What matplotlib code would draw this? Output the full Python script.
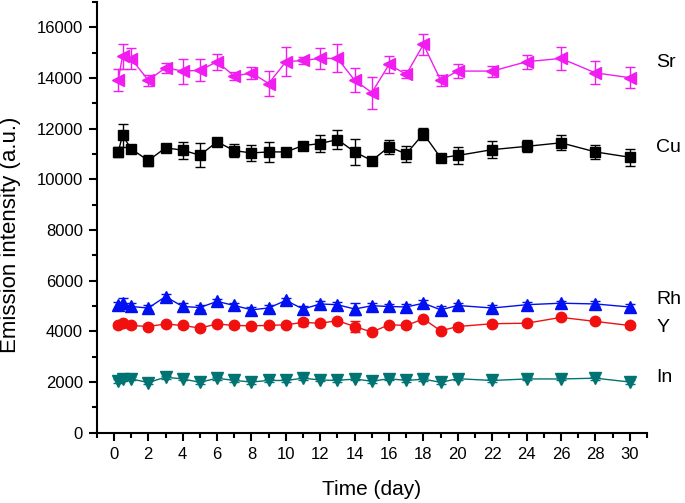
import numpy as np
import matplotlib
matplotlib.use('Agg')
import matplotlib.pyplot as plt
from matplotlib.ticker import MultipleLocator

plt.rcParams['font.family'] = ['Liberation Sans', 'DejaVu Sans']

# sampling times (day)
days = [0.25, 0.5, 1, 2, 3, 4, 5, 6, 7, 8, 9, 10, 11, 12, 13, 14, 15,
        16, 17, 18, 19, 20, 22, 24, 26, 28, 30]

sr = [13910, 14860, 14760, 13910, 14400, 14270, 14300, 14640, 14070, 14200,
      13780, 14640, 14690, 14770, 14770, 13910, 13420, 14530, 14140, 15320,
      13910, 14270, 14270, 14640, 14770, 14200, 14010]
sr_err = [430, 490, 410, 220, 200, 490, 430, 320, 150, 230, 510, 570, 130,
          410, 550, 470, 630, 320, 160, 400, 220, 290, 220, 280, 450, 450, 410]

cu = [11070, 11740, 11200, 10740, 11240, 11150, 10950, 11480, 11130, 11040,
      11080, 11080, 11330, 11410, 11570, 11080, 10740, 11280, 11000, 11800,
      10850, 10940, 11170, 11300, 11440, 11080, 10870]
cu_err = [200, 450, 100, 230, 100, 330, 480, 100, 250, 330, 400, 80, 100,
          320, 360, 500, 100, 270, 300, 230, 100, 320, 330, 240, 290, 280, 340]

rh = [5020, 5110, 4980, 4920, 5370, 4980, 4940, 5180, 5020, 4850, 4920, 5220,
      4880, 5080, 5050, 4880, 5010, 4980, 4960, 5110, 4850, 5020, 4920, 5050,
      5110, 5080, 4960]
rh_err = [150, 200, 130, 120, 120, 130, 100, 110, 100, 110, 120, 110, 120,
          100, 110, 230, 100, 100, 100, 110, 130, 100, 110, 100, 100, 100, 100]

y_el = [4230, 4320, 4230, 4190, 4290, 4230, 4130, 4290, 4230, 4220, 4230,
        4260, 4350, 4320, 4420, 4190, 3970, 4260, 4230, 4490, 4020, 4190,
        4300, 4320, 4550, 4390, 4230]
y_err = [80, 80, 80, 80, 80, 80, 80, 80, 80, 80, 80, 80, 130, 80, 80, 200,
         80, 80, 80, 80, 80, 80, 80, 80, 80, 80, 80]

in_el = [2040, 2110, 2120, 1980, 2190, 2120, 1990, 2150, 2060, 2000, 2060,
         2060, 2150, 2080, 2060, 2120, 2030, 2130, 2060, 2110, 1990, 2130,
         2060, 2120, 2120, 2150, 2000]
in_err = [60] * len(days)

series = [
    ('Sr', sr, sr_err, '<', '#f01cf0', 9, 14600),
    ('Cu', cu, cu_err, 's', 'black', 7, 11250),
    ('Rh', rh, rh_err, '^', '#0010f0', 8, 5250),
    ('Y', y_el, y_err, 'o', '#f01010', 7.5, 4170),
    ('In', in_el, in_err, 'v', '#007373', 8, 2160),
]

fig = plt.figure(figsize=(6.85, 5.03), dpi=100)
ax = fig.add_axes([0.1412, 0.1398, 0.8033, 0.8564])

for name, vals, errs, mk, col, ms, ylab in series:
    ax.errorbar(days, vals, yerr=errs, marker=mk, color=col, ms=ms, lw=1,
                elinewidth=1, capsize=3.5, capthick=1, mec=col, mfc=col)
    ax.text(31.55, ylab, name, fontsize=14, va='center', ha='left',
            clip_on=False)

ax.set_xlim(-1, 31)
ax.set_ylim(0, 17000)
ax.xaxis.set_major_locator(MultipleLocator(2))
ax.xaxis.set_minor_locator(MultipleLocator(1))
ax.yaxis.set_major_locator(MultipleLocator(2000))
ax.yaxis.set_minor_locator(MultipleLocator(1000))
ax.set_yticks([0, 2000, 4000, 6000, 8000, 10000, 12000, 14000, 16000])
ax.set_xticks(range(0, 31, 2))

for s in ['top', 'right']:
    ax.spines[s].set_visible(False)
for s in ['left', 'bottom']:
    ax.spines[s].set_linewidth(1.5)

ax.tick_params(which='major', direction='out', length=6, width=1.5,
               labelsize=12, pad=4)
ax.tick_params(which='minor', direction='out', length=3.5, width=1.5)

ax.set_xlabel('Time (day)', fontsize=15, labelpad=13)
ax.set_ylabel('Emission intensity (a.u.)', fontsize=16)
ax.yaxis.set_label_coords(-0.138, 0.46)

fig.savefig('out.png', dpi=100)
